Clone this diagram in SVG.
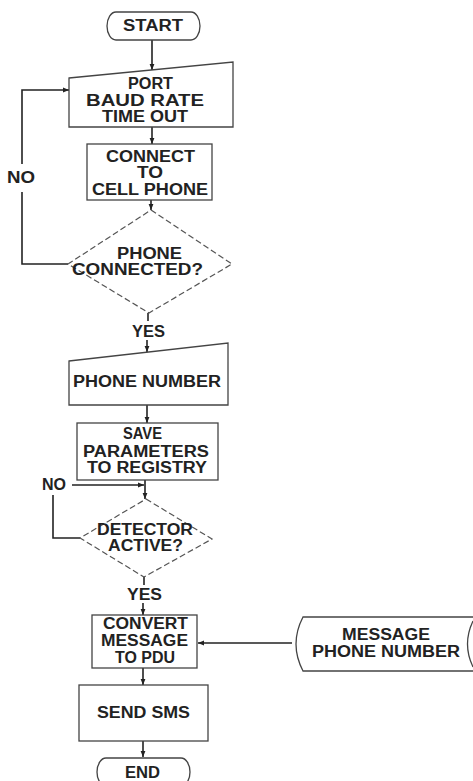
<svg xmlns="http://www.w3.org/2000/svg" width="473" height="781" viewBox="0 0 473 781">
<style>
.s{fill:none;stroke:#444;stroke-width:1.3}
.d{fill:none;stroke:#555;stroke-width:1.2;stroke-dasharray:6 3}
.c{fill:none;stroke:#222;stroke-width:1.6}
text{font-family:"Liberation Sans",Arial,sans-serif;font-weight:bold;font-size:16px;fill:#222}
</style>
<defs>
<marker id="ah" viewBox="0 0 10 10" refX="10" refY="5" markerWidth="6" markerHeight="6" orient="auto" markerUnits="userSpaceOnUse">
<path d="M0,1 L10,5 L0,9 Z" fill="#222"/>
</marker>
</defs>
<rect width="473" height="781" fill="#fff"/>
<g id="connectors">
<line class="c" x1="152" y1="40" x2="152" y2="70" marker-end="url(#ah)"/>
<line class="c" x1="152" y1="127" x2="152" y2="144" marker-end="url(#ah)"/>
<line class="c" x1="151" y1="200" x2="151" y2="210" marker-end="url(#ah)"/>
<polyline class="c" points="68,264 22,264 22,192"/>
<polyline class="c" points="22,164 22,90 69,90" marker-end="url(#ah)"/>
<line class="c" x1="148" y1="313" x2="148" y2="321"/>
<line class="c" x1="147" y1="340" x2="147" y2="352" marker-end="url(#ah)"/>
<line class="c" x1="147" y1="405" x2="147" y2="423" marker-end="url(#ah)"/>
<line class="c" x1="145" y1="480" x2="145" y2="499" marker-end="url(#ah)"/>
<line class="c" x1="72" y1="485" x2="144" y2="485" marker-end="url(#ah)"/>
<polyline class="c" points="80,538 53,538 53,495"/>
<line class="c" x1="144" y1="577" x2="144" y2="585"/>
<line class="c" x1="143" y1="603" x2="143" y2="615" marker-end="url(#ah)"/>
<line class="c" x1="292" y1="643" x2="198" y2="643" marker-end="url(#ah)"/>
<line class="c" x1="143" y1="668" x2="143" y2="685" marker-end="url(#ah)"/>
<line class="c" x1="143" y1="741" x2="143" y2="757" marker-end="url(#ah)"/>
<text x="7" y="183" textLength="28" lengthAdjust="spacingAndGlyphs">NO</text>
<text x="132" y="337" textLength="33" lengthAdjust="spacingAndGlyphs">YES</text>
<text x="42" y="490" textLength="24" lengthAdjust="spacingAndGlyphs">NO</text>
<text x="127" y="600" textLength="35" lengthAdjust="spacingAndGlyphs">YES</text>
</g>
<g id="start">
<path class="s" d="M116,12 H191 A9,14 0 0 1 191,40 H116 A9,14 0 0 1 116,12 Z"/>
<text x="123" y="31" textLength="60" lengthAdjust="spacingAndGlyphs">START</text>
</g>
<g id="input-port">
<polygon class="s" points="69,78 233,62 233,127 69,127"/>
<text x="128" y="89" textLength="45" lengthAdjust="spacingAndGlyphs">PORT</text>
<text x="86" y="106" textLength="118" lengthAdjust="spacingAndGlyphs">BAUD RATE</text>
<text x="102" y="122" textLength="86" lengthAdjust="spacingAndGlyphs">TIME OUT</text>
</g>
<g id="connect">
<rect class="s" x="87" y="144" width="125" height="56"/>
<text x="106" y="162" textLength="89" lengthAdjust="spacingAndGlyphs">CONNECT</text>
<text x="137" y="178" textLength="26" lengthAdjust="spacingAndGlyphs">TO</text>
<text x="92" y="195" textLength="116" lengthAdjust="spacingAndGlyphs">CELL PHONE</text>
</g>
<g id="phone-connected">
<polygon class="d" points="151,210 232,264 149,313 68,264"/>
<text x="117" y="259" textLength="65" lengthAdjust="spacingAndGlyphs">PHONE</text>
<text x="72" y="275" textLength="131" lengthAdjust="spacingAndGlyphs">CONNECTED?</text>
</g>
<g id="input-phone">
<polygon class="s" points="69,361 228,343 228,405 69,405"/>
<text x="73" y="387" textLength="148" lengthAdjust="spacingAndGlyphs">PHONE NUMBER</text>
</g>
<g id="save">
<rect class="s" x="77" y="423" width="141" height="57"/>
<text x="123" y="439" textLength="39" lengthAdjust="spacingAndGlyphs">SAVE</text>
<text x="83" y="457" textLength="126" lengthAdjust="spacingAndGlyphs">PARAMETERS</text>
<text x="87" y="473" textLength="120" lengthAdjust="spacingAndGlyphs">TO REGISTRY</text>
</g>
<g id="detector">
<polygon class="d" points="146,499 212,539 144,577 80,538"/>
<text x="97" y="535" textLength="96" lengthAdjust="spacingAndGlyphs">DETECTOR</text>
<text x="108" y="551" textLength="75" lengthAdjust="spacingAndGlyphs">ACTIVE?</text>
</g>
<g id="convert">
<rect class="s" x="92" y="615" width="105" height="53"/>
<text x="103" y="629" textLength="85" lengthAdjust="spacingAndGlyphs">CONVERT</text>
<text x="101" y="646" textLength="87" lengthAdjust="spacingAndGlyphs">MESSAGE</text>
<text x="115" y="663" textLength="60" lengthAdjust="spacingAndGlyphs">TO PDU</text>
</g>
<g id="stored-data">
<path class="s" d="M473,617 H303 Q289,644 303,671 H473"/>
<path class="s" d="M473,621 Q462,644 473,667"/>
<text x="342" y="640" textLength="88" lengthAdjust="spacingAndGlyphs">MESSAGE</text>
<text x="312" y="657" textLength="148" lengthAdjust="spacingAndGlyphs">PHONE NUMBER</text>
</g>
<g id="send-sms">
<rect class="s" x="79" y="685" width="129" height="56"/>
<text x="97" y="718" textLength="93" lengthAdjust="spacingAndGlyphs">SEND SMS</text>
</g>
<g id="end">
<path class="s" d="M106,758 H181 A9,14 0 0 1 181,786 H106 A9,14 0 0 1 106,758 Z"/>
<text x="125" y="778" textLength="35" lengthAdjust="spacingAndGlyphs">END</text>
</g>
</svg>
